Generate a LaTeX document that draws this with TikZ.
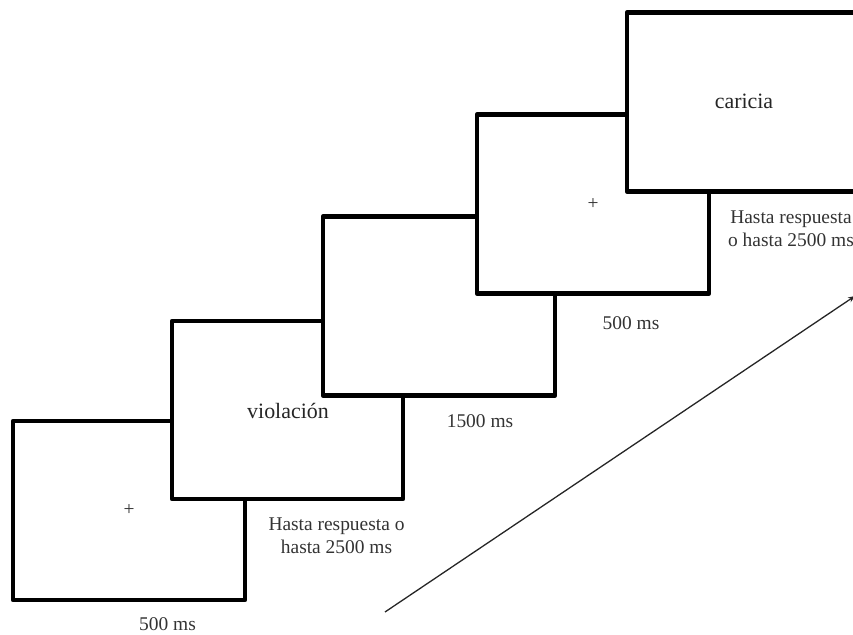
\documentclass[tikz,border=0pt]{standalone}
\usepackage{fontspec}
\setmainfont{Liberation Serif}
\usetikzlibrary{arrows.meta}
\begin{document}
\begin{tikzpicture}[x=1bp,y=-1bp,
  screen/.style={draw=black, fill=white, line width=4.6bp, line join=round,
    minimum width=232bp, minimum height=179bp, inner sep=0pt, outer sep=0pt,
    font=\fontsize{19.5}{23}\selectfont, text=black!80},
  word/.style={font=\fontsize{22}{26}\selectfont, text=black!85},
  lbl/.style={font=\fontsize{19.5}{23.5}\selectfont, align=center, inner sep=0pt, text=black!80}]
\useasboundingbox (0,0) rectangle (853,635);
\node[screen] (s1) at (129,510.5) {+};
\node[screen, minimum width=231bp, minimum height=178bp] (s2) at (287.5,410) {};
\node[word] (w2) at (288,411) {violación};
\node[screen] (s3) at (439,306) {};
\node[screen] (s4) at (593,204) {+};
\node[screen] (s5) at (743,102) {};
\node[word] (w5) at (744,101) {caricia};
\node[lbl] (t1) at (167.5,624) {500 ms};
\node[lbl] (t2) at (336.5,535.5) {Hasta respuesta o\\hasta 2500 ms};
\node[lbl] (t3) at (480,421) {1500 ms};
\node[lbl] (t4) at (631,323) {500 ms};
\node[lbl] (t5) at (791,229) {Hasta respuesta\\o hasta 2500 ms};
\coordinate (a0) at (385,612);
\coordinate (a1) at (855,296);
\draw[line width=1.3bp, draw=black!85, -{Stealth[length=7bp,width=5.5bp]}] (a0) -- (a1);
\end{tikzpicture}
\end{document}
